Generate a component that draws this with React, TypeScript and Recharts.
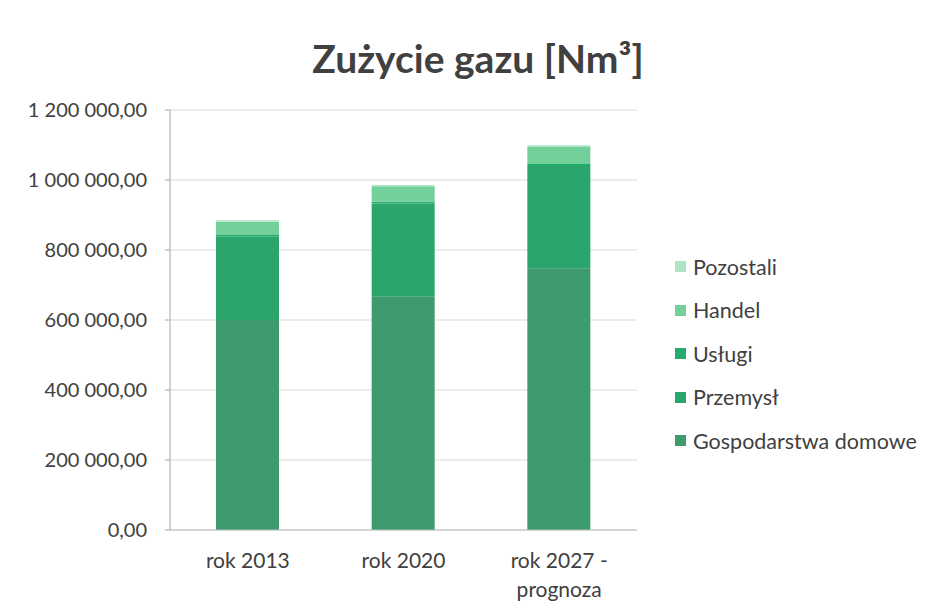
import { BarChart, Bar, XAxis, YAxis, CartesianGrid } from 'recharts'

const categories = ['rok 2013', 'rok 2020', 'rok 2027 - prognoza']
const gospodarstwa = [600000, 668000, 748000]
const przemysl = [238000, 265000, 292000]
const uslugi = [5000, 5000, 6000]
const handel = [38000, 44000, 48000]
const pozostali = [4000, 4000, 5000]
const yTicks = [0, 200000, 400000, 600000, 800000, 1000000, 1200000]

const series = [
  { key: 'gospodarstwa', name: 'Gospodarstwa domowe', color: '#3d9b6d' },
  { key: 'przemysl', name: 'Przemysł', color: '#2aa56b' },
  { key: 'uslugi', name: 'Usługi', color: '#22ad6c' },
  { key: 'handel', name: 'Handel', color: '#74d09b' },
  { key: 'pozostali', name: 'Pozostali', color: '#aee5c7' },
]

const data = categories.map((c, i) => ({
  name: c,
  gospodarstwa: gospodarstwa[i],
  przemysl: przemysl[i],
  uslugi: uslugi[i],
  handel: handel[i],
  pozostali: pozostali[i],
}))

const FONT = 'Lato, "Open Sans", sans-serif'
const TEXT = '#404040'

function fmt(v: number) {
  const s = Math.round(v).toString().replace(/\B(?=(\d{3})+(?!\d))/g, ' ')
  return `${s},00`
}

function XTick({ x, y, payload }: any) {
  const label: string = payload.value
  const lines = label.includes(' - ') ? [label.split(' - ')[0] + ' -', label.split(' - ')[1]] : [label]
  return (
    <text x={x} y={y + 30} textAnchor="middle" fill={TEXT} fontSize={21} fontFamily={FONT}>
      {lines.map((l, i) => (
        <tspan key={i} x={x} dy={i === 0 ? 0 : 29}>
          {l}
        </tspan>
      ))}
    </text>
  )
}

function LegendBox() {
  const items = [...series].reverse()
  return (
    <div style={{ position: 'absolute', left: 675, top: 245, fontFamily: FONT, fontSize: 21.5, color: TEXT }}>
      {items.map((s) => (
        <div key={s.key} style={{ display: 'flex', alignItems: 'center', height: 43.5 }}>
          <span style={{ width: 11, height: 11, background: s.color, marginRight: 7, display: 'inline-block' }} />
          {s.name}
        </div>
      ))}
    </div>
  )
}

export default function App() {
  return (
    <div style={{ position: 'absolute', left: 0, top: 0, width: 936, height: 616, background: '#fff' }}>
      <div
        style={{
          position: 'absolute',
          left: 0,
          width: 956,
          top: 35,
          textAlign: 'center',
          fontFamily: FONT,
          fontWeight: 700,
          fontSize: 39,
          color: TEXT,
        }}
      >
        Zużycie gazu [Nm³]
      </div>
      <BarChart width={936} height={616} data={data} margin={{ top: 110, right: 299, left: 10, bottom: 26 }} barSize={63}>
        <CartesianGrid vertical={false} stroke="#d9d9d9" />
        <XAxis
          dataKey="name"
          tick={<XTick />}
          tickLine={false}
          axisLine={{ stroke: '#bfbfbf' }}
          height={60}
          interval={0}
        />
        <YAxis
          width={160}
          domain={[0, 1200000]}
          ticks={yTicks}
          tickFormatter={fmt}
          tick={{ fontSize: 20, fill: TEXT, fontFamily: FONT }}
          axisLine={{ stroke: '#a6a6a6' }}
          tickLine={{ stroke: '#a6a6a6' }}
          tickSize={5}
          tickMargin={18}
        />
        {series.map((s) => (
          <Bar key={s.key} dataKey={s.key} name={s.name} stackId="a" fill={s.color} isAnimationActive={false} />
        ))}
      </BarChart>
      <LegendBox />
    </div>
  )
}
